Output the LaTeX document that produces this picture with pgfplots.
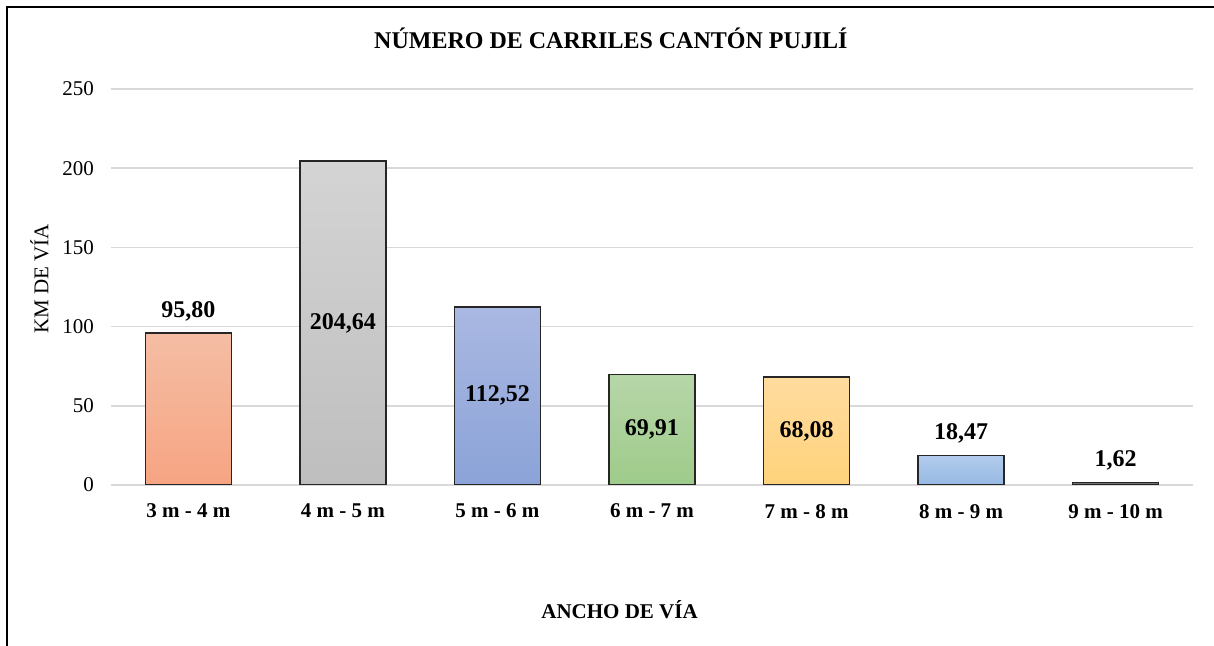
\documentclass[border=0pt]{standalone}
\usepackage{fontspec}
\setmainfont{Liberation Serif}
\usepackage{pgfplots}
\pgfplotsset{compat=1.18}
\definecolor{gridc}{RGB}{217,217,217}
\definecolor{barline}{RGB}{38,38,38}
\definecolor{c1t}{RGB}{245,189,164}\definecolor{c1b}{RGB}{246,164,130}
\definecolor{c2t}{RGB}{212,212,212}\definecolor{c2b}{RGB}{190,190,190}
\definecolor{c3t}{RGB}{170,184,226}\definecolor{c3b}{RGB}{139,163,216}
\definecolor{c4t}{RGB}{182,214,168}\definecolor{c4b}{RGB}{158,203,138}
\definecolor{c5t}{RGB}{255,219,158}\definecolor{c5b}{RGB}{255,211,124}
\definecolor{c6t}{RGB}{178,203,236}\definecolor{c6b}{RGB}{150,185,227}
\definecolor{c7t}{RGB}{120,120,120}\definecolor{c7b}{RGB}{90,90,90}
\begin{document}
\begin{tikzpicture}
\path[use as bounding box] (0,0) rectangle (607pt,323pt);
\draw[line width=1pt,black] (3.5pt,0) -- (3.5pt,319.5pt) -- (607pt,319.5pt);
\begin{axis}[
  at={(55.5pt,80.5pt)}, anchor=south west,
  scale only axis, width=541pt, height=198pt,
  xmin=-0.5, xmax=6.5, ymin=0, ymax=250,
  xtick={0,1,2,3,4,5,6},
  xticklabels={3 m - 4 m,4 m - 5 m,5 m - 6 m,6 m - 7 m,7 m - 8 m,8 m - 9 m,9 m - 10 m},
  ytick={0,50,100,150,200,250},
  ymajorgrids, grid style={draw=gridc, line width=0.75pt},
  axis x line*=bottom, axis y line*=left,
  axis line style={draw=none}, tick style={draw=none},
  major tick length=0pt,
  /pgf/number format/assume math mode=true,
  tick label style={font=\fontsize{10.5}{12}\selectfont},
  xticklabel style={font=\fontsize{10.5}{12}\selectfont\bfseries, yshift=-6pt},
  yticklabel style={xshift=-5pt},
  title={\textbf{NÚMERO DE CARRILES CANTÓN PUJILÍ}},
  title style={font=\fontsize{12}{14}\selectfont, at={(rel axis cs:0.462,1.097)}, anchor=center},
  xlabel={\textbf{ANCHO DE VÍA}},
  xlabel style={font=\fontsize{10.5}{12}\selectfont, at={(rel axis cs:0.470,-0.316)}, anchor=center},
  ylabel={KM DE VÍA},
  ylabel style={font=\fontsize{10.5}{12}\selectfont, at={(rel axis cs:-0.066,0.52)}, anchor=center, rotate=0},
  mybar/.style={ybar, bar width=43pt, bar shift=0pt, draw=barline, line width=0.75pt},
  nodes near coords={\pgfmathprintnumber[use comma,fixed,fixed zerofill,precision=2]{\pgfplotspointmeta}},
  outlab/.style={every node near coord/.style={font=\fontsize{12}{14}\selectfont\bfseries, anchor=south, yshift=2.5pt, text=black}},
  inlab/.style={visualization depends on={rawy \as \rawy},
     every node near coord/.style={font=\fontsize{12}{14}\selectfont\bfseries, anchor=center, text=black, shift={(axis direction cs:0,-\rawy/2)}}},
]
\addplot[mybar, top color=c1t, bottom color=c1b, outlab] coordinates {(0,95.80)};
\addplot[mybar, top color=c2t, bottom color=c2b, inlab] coordinates {(1,204.64)};
\addplot[mybar, top color=c3t, bottom color=c3b, inlab] coordinates {(2,112.52)};
\addplot[mybar, top color=c4t, bottom color=c4b, inlab] coordinates {(3,69.91)};
\addplot[mybar, top color=c5t, bottom color=c5b, inlab] coordinates {(4,68.08)};
\addplot[mybar, top color=c6t, bottom color=c6b, outlab] coordinates {(5,18.47)};
\addplot[mybar, top color=c7t, bottom color=c7b, outlab] coordinates {(6,1.62)};
\end{axis}
\end{tikzpicture}
\end{document}
